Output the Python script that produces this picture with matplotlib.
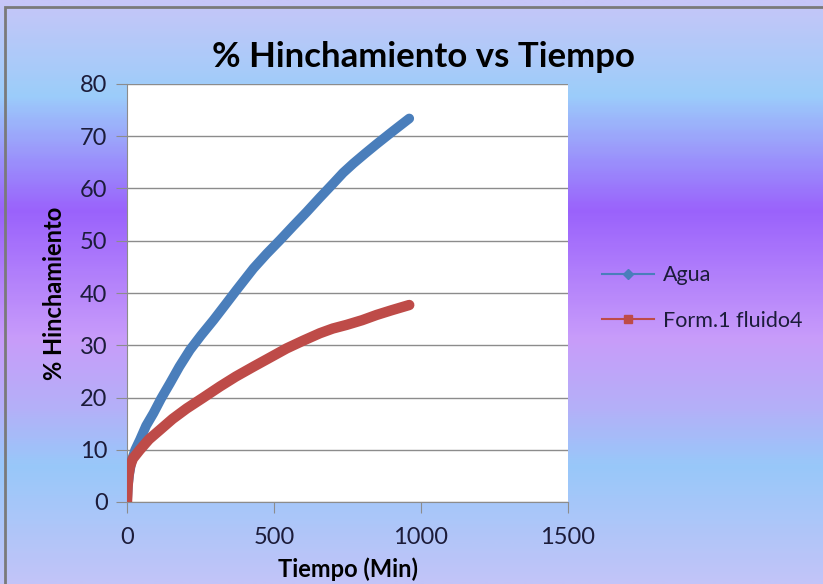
import numpy as np
import matplotlib
matplotlib.use('Agg')
import matplotlib.pyplot as plt
from matplotlib.colors import LinearSegmentedColormap
from matplotlib.patches import Rectangle

plt.rcParams['font.family'] = ['Lato', 'DejaVu Sans']

# values
agua_t = [0, 3, 8, 16, 28, 44, 65, 90, 116, 146, 178, 214, 252, 294, 335, 373, 430,
          475, 520, 565, 611, 655, 702, 735, 770, 810, 849, 905, 960]
agua_v = [0, 3.2, 5.5, 8.0, 10.0, 11.9, 14.6, 17.0, 19.8, 22.7, 25.9, 29.1, 31.9, 34.8,
          37.8, 40.6, 44.7, 47.5, 50.1, 52.8, 55.5, 58.2, 61.0, 63.0, 64.8, 66.7, 68.5,
          71.0, 73.4]

form_t = [0, 2, 5, 10, 20, 44, 75, 112, 155, 203, 260, 316, 370, 430, 485, 543, 600,
          656, 700, 747, 800, 849, 900, 960]
form_v = [0, 2.9, 5.0, 6.8, 8.3, 10.0, 12.0, 13.8, 15.9, 17.9, 20.0, 22.1, 24.0, 25.9,
          27.6, 29.4, 30.9, 32.3, 33.2, 33.9, 34.8, 35.8, 36.7, 37.7]

xticks = [0, 500, 1000, 1500]
yticks = [0, 10, 20, 30, 40, 50, 60, 70, 80]

fig = plt.figure(figsize=(8.23, 5.84), dpi=100)

# gradient background like the Excel chart area
bg = fig.add_axes([0, 0, 1, 1], zorder=-10)
stops = [(0.0, '#c6c6f8'), (0.16, '#9ccdfa'), (0.36, '#9a62fc'), (0.58, '#c89cfa'),
         (0.70, '#b4b0f8'), (0.80, '#98c8fa'), (1.0, '#c2c4f8')]
cmap = LinearSegmentedColormap.from_list('bg', stops)
grad = np.linspace(0, 1, 300).reshape(-1, 1)
bg.imshow(grad, aspect='auto', cmap=cmap, extent=[0, 1, 0, 1], origin='upper')
bg.add_patch(Rectangle((5 / 823, -0.01), 1.0, 1 - 7 / 584 + 0.01, fill=False,
                       edgecolor='#7a7a7a', linewidth=2, transform=bg.transAxes))
bg.set_xlim(0, 1)
bg.set_ylim(0, 1)
bg.axis('off')

ax = fig.add_axes([127 / 823, 1 - 502 / 584, 441 / 823, 418 / 584])
ax.set_facecolor('white')

ax.plot(agua_t, agua_v, color='#4a7ebb', lw=7, solid_capstyle='round',
        solid_joinstyle='round', zorder=3)
ax.plot(form_t, form_v, color='#be4b48', lw=7.5, solid_capstyle='round',
        solid_joinstyle='round', zorder=3)

ax.set_xlim(0, 1500)
ax.set_ylim(0, 80)
ax.set_xticks(xticks)
ax.set_yticks(yticks)
ax.grid(axis='y', color='#8c8c8c', linewidth=1)
ax.set_axisbelow(True)
for s in ['top', 'right']:
    ax.spines[s].set_visible(False)
for s in ['left', 'bottom']:
    ax.spines[s].set_color('#8c8c8c')
ax.tick_params(direction='out', length=8, color='#8c8c8c', labelsize=17,
               labelcolor='#1c1c3a')
ax.tick_params(axis='x', pad=10)
ax.tick_params(axis='y', pad=6)

ax.set_xlabel('Tiempo (Min)', fontsize=17, fontweight='bold', labelpad=7)
ax.set_ylabel('% Hinchamiento', fontsize=17, fontweight='bold', labelpad=10)
fig.text(0.514, 0.903, '% Hinchamiento vs Tiempo', ha='center', va='center',
         fontsize=25, fontweight='bold')

# legend drawn like Excel: line with a marker
fig.legend(handles=[
    plt.Line2D([], [], color='#4a7ebb', marker='D', markersize=5, lw=1.5, label='Agua'),
    plt.Line2D([], [], color='#be4b48', marker='s', markersize=6, lw=1.5, label='Form.1 fluido4'),
], loc='center left', bbox_to_anchor=(583 / 823, 1 - 298 / 584), frameon=False,
    fontsize=15.5, handlelength=2.4, handletextpad=0.4, labelspacing=1.2,
    labelcolor='#1c1c3a')

fig.savefig('out.png', dpi=100)
